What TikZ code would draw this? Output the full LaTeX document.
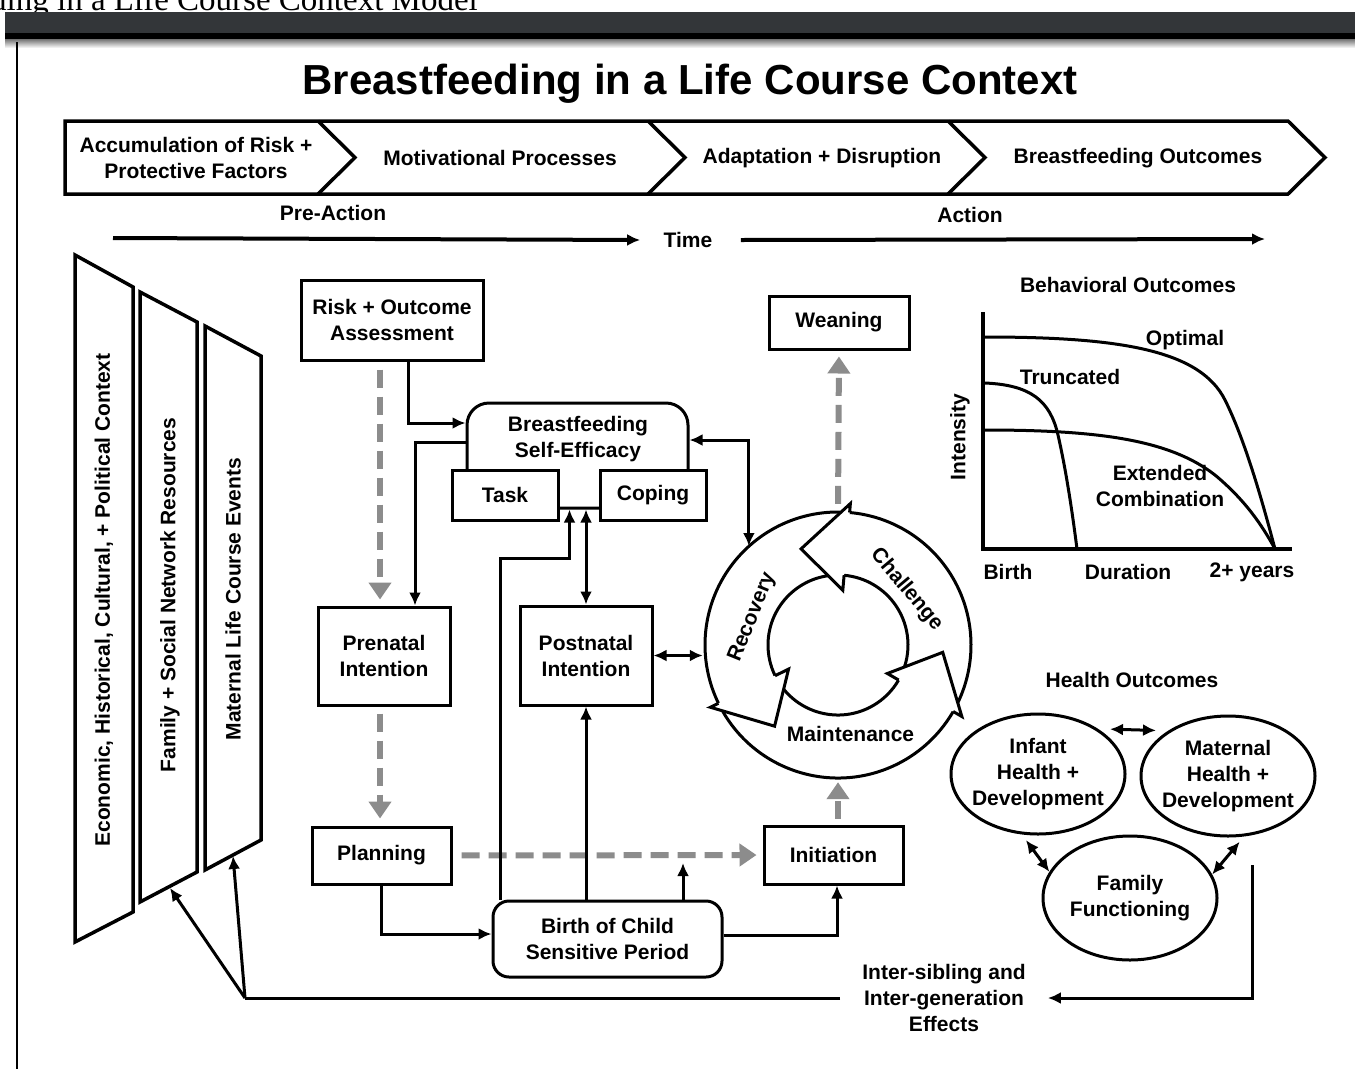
\documentclass[tikz,border=0pt]{standalone}
\usepackage{fontspec}
\setmainfont{Liberation Sans}
\newfontfamily\capfont{Liberation Serif}
\usetikzlibrary{arrows.meta,shapes.geometric,calc}

\definecolor{barcol}{HTML}{333639}

\tikzset{
  lbl/.style={font=\bfseries\fontsize{21}{26}\selectfont, align=center},
  box/.style={draw, line width=3pt, fill=white, lbl, inner sep=0pt},
  oval/.style={ellipse, draw, line width=3pt, lbl, inner sep=-15pt, minimum width=174pt, minimum height=120pt},
  arr/.style={line width=3pt, -{Latex[length=13pt,width=12pt]}},
  arr2/.style={line width=3pt, {Latex[length=13pt,width=12pt]}-{Latex[length=13pt,width=12pt]}},
  tarr/.style={line width=4pt, -{Latex[length=13pt,width=12pt]}},
  garr/.style={draw=black!45, line width=6pt, dash pattern=on 18pt off 9pt, -{Triangle[width=22pt,length=17pt]}},
  panel/.style={line width=3.5pt, line join=miter},
}

\begin{document}
\begin{tikzpicture}[x=1pt, y=-1pt]
\useasboundingbox (0,0) rectangle (1355,1069);
\fill[white] (0,0) rectangle (1355,1069);

% Page header
\node[anchor=base east, font=\capfont\fontsize{33}{36}\selectfont, inner sep=0pt] (cap) at (478,10) {Breastfeeding in a Life Course Context Model};
\fill[barcol] (5,12) rectangle (1355,33);
\fill[black] (5,33) rectangle (1355,39);
\shade[top color=black!55, bottom color=white] (5,39) rectangle (1355,48);
\draw[line width=2pt] (17,42) -- (17,1069);

% Title
\node[font=\bfseries\fontsize{42}{50}\selectfont] (title) at (690,84) {Breastfeeding in a Life Course Context};

% Stages
\draw[line width=3.5pt, line join=miter] (65,121) -- (1288,121) -- (1325,157.5) -- (1288,194) -- (65,194) -- cycle;
\draw[line width=3.5pt] (318,121) -- (355,157.5) -- (318,194);
\draw[line width=3.5pt] (648,121) -- (685,157.5) -- (648,194);
\draw[line width=3.5pt] (948,121) -- (985,157.5) -- (948,194);
\node[lbl] (acc) at (196,158) {Accumulation of Risk +\\Protective Factors};
\node[lbl] (motiv) at (500,158) {Motivational Processes};
\node[lbl] (adapt) at (822,158) {Adaptation + Disruption};
\node[lbl] (bfout) at (1138,158) {Breastfeeding Outcomes};

% Time
\node[lbl] (preact) at (333,213) {Pre-Action};
\node[lbl] (act) at (970,215) {Action};
\node[lbl] (time) at (688,240) {Time};
\coordinate (t0) at (113,238);
\coordinate (t1) at (1265,239);
\draw[tarr] (t0) -- ([xshift=-20pt]time.west);
\draw[tarr] ([xshift=25pt]time.east) -- (t1);

% Context panels
\draw[panel] (75,255) -- (133,287) -- (133,912) -- (75,942) -- cycle;
\draw[panel] (140,292) -- (197,322) -- (197,872) -- (140,902) -- cycle;
\draw[panel] (205,326) -- (261,356) -- (261,840) -- (205,870) -- cycle;
\node[lbl, rotate=90] (econ) at (104,600) {Economic, Historical, Cultural, + Political Context};
\node[lbl, rotate=90] (famnet) at (170,595) {Family + Social Network Resources};
\node[lbl, rotate=90] (lifeev) at (233,599) {Maternal Life Course Events};
\coordinate (famb) at (170,888);
\coordinate (lifeb) at (233,856);

% Boxes
\node[box, minimum width=182pt, minimum height=80pt] (risk) at (392,320) {Risk + Outcome\\Assessment};
\node[box, rounded corners=22pt, minimum width=221pt, minimum height=105pt] (bse) at (577.5,455.5) {};
\node[lbl] (bsetxt) at (578,439) {Breastfeeding\\Self-Efficacy};
\node[box, minimum width=106pt, minimum height=50pt] (task) at (505,495) {Task};
\node[box, minimum width=106pt, minimum height=50pt] (cope) at (653,495) {Coping};
\node[box, minimum width=132pt, minimum height=98pt] (pre) at (384,656) {Prenatal\\Intention};
\node[box, minimum width=132pt, minimum height=99pt] (post) at (586,655.5) {Postnatal\\Intention};
\node[box, minimum width=139pt, minimum height=57pt] (plan) at (381.5,855.5) {Planning};
\node[box, minimum width=139pt, minimum height=58pt] (init) at (833.5,855) {Initiation};
\node[box, rounded corners=16pt, minimum width=229pt, minimum height=76pt] (birth) at (607.5,939) {Birth of Child\\Sensitive Period};
\node[box, minimum width=140pt, minimum height=53pt] (wean) at (839,322.5) {Weaning};

% Cycle
\node[circle, inner sep=0pt, minimum size=266pt] (ring) at (838,645) {};
\begin{scope}[shift={(ring.center)}, y=1pt]
  \draw[line width=3pt] (-26:133) arc[start angle=-26, end angle=85, radius=133]
    (-26:70) arc[start angle=-26, end angle=85, radius=70];
  \draw[line width=3pt] (89:133) arc[start angle=89, end angle=206, radius=133]
    (89:70) arc[start angle=89, end angle=206, radius=70];
  \draw[line width=3pt] (210:133) arc[start angle=210, end angle=330, radius=133]
    (210:70) arc[start angle=210, end angle=330, radius=70];
  \filldraw[fill=white, line width=3pt, line join=miter] (85:133) -- (85:142) -- (111:103) -- (85:55) -- (85:70);
  \filldraw[fill=white, line width=3pt, line join=miter] (206:133) -- (206:142) -- (232:103) -- (206:55) -- (206:70);
  \filldraw[fill=white, line width=3pt, line join=miter] (330:133) -- (330:143) -- (356:105) -- (330:57) -- (330:70);
  \node[lbl, rotate=-50] (chal) at (39:88) {Challenge};
  \node[lbl, rotate=68] (recov) at (162:90) {Recovery};
  \node[lbl] (maint) at (-82:90) {Maintenance};
\end{scope}

% Connectors
\draw[arr] ([xshift=16pt]risk.south) |- ([yshift=32.5pt]bse.west);
\draw[arr] ([yshift=13.5pt]bse.west) -| ([xshift=31pt]pre.north);
\draw[arr2] ([yshift=15.5pt]bse.east) -| (ring.132);
\draw[garr, shorten <=8pt, shorten >=6pt] ([xshift=-12pt]risk.south) -- ([xshift=-4pt]pre.north);
\draw[garr, shorten <=7pt, shorten >=7pt] ([xshift=-4pt]pre.south) -- ([xshift=-1.5pt]plan.north);
\draw[garr, shorten <=9pt, shorten >=6pt] (plan.east) -- (init.west);
\draw[garr, shorten <=8pt, shorten >=6pt] (ring.north) -- (wean.south);
\draw[garr, shorten <=6pt, shorten >=4pt] ([xshift=4.5pt]init.north) -- (ring.south);
\draw[arr] (plan.south) |- ([yshift=5pt]birth.west);
\draw[arr] ([yshift=4pt]birth.east) -| ([xshift=3.5pt]init.south);
\draw[arr] (post.south |- birth.north) -- (post.south);
\draw[arr] ([xshift=-107.5pt]birth.north) -- ++(0,-341) -| ([xshift=-8pt]bse.south);
\draw[arr2] (post.north) -- (post.north |- bse.south);
\coordinate (dashhit) at (683,863);
\draw[arr] (birth.north -| dashhit) -- (dashhit);
\draw[arr2, shorten >=2pt] (post.east) -- (post.east -| ring.west);

% Behavioral outcomes
\node[lbl] (bout) at (1128,285) {Behavioral Outcomes};
\draw[line width=3.5pt] (983,312) -- (983,549) -- (1292,549);
\draw[line width=3pt] (985,337) .. controls (1120,337) and (1200,350) .. (1225,400) .. controls (1245,440) and (1262,500) .. (1275,549);
\draw[line width=3pt] (985,383) .. controls (1030,385) and (1050,400) .. (1058,435) .. controls (1066,470) and (1072,510) .. (1077,549);
\draw[line width=3pt] (985,430) .. controls (1100,430) and (1170,440) .. (1215,475) .. controls (1245,500) and (1262,525) .. (1275,549);
\node[lbl, rotate=90] (inten) at (960,437) {Intensity};
\node[lbl] (opt) at (1185,340) {Optimal};
\node[lbl] (trunc) at (1070,377) {Truncated};
\node[lbl] (ext) at (1160,486) {Extended\\Combination};
\node[lbl] (birthlbl) at (1008,572) {Birth};
\node[lbl] (dur) at (1128,572) {Duration};
\node[lbl] (twoyr) at (1252,572) {2+ years};

% Health outcomes
\node[lbl] (hout) at (1132,680) {Health Outcomes};
\node[oval] (inf) at (1038,774) {Infant\\Health +\\Development};
\node[oval] (mat) at (1228,776) {Maternal\\Health +\\Development};
\node[oval, minimum height=124pt] (fam) at (1130,898) {Family\\Functioning};
\draw[arr2, shorten <=12pt, shorten >=12pt] (inf.37) -- (mat.143);
\draw[arr2, shorten <=7pt] (inf.255) -- (fam.162);
\draw[arr2, shorten <=7pt] (mat.285) -- (fam.16);

% Feedback
\node[lbl, inner xsep=22pt] (inter) at (944,998) {Inter-sibling and\\Inter-generation\\Effects};
\coordinate (hstart) at (1252,865);
\coordinate (fork) at (245,998);
\draw[arr] (hstart) |- (inter.east);
\draw[line width=3pt] (inter.west) -- (fork);
\draw[arr] (fork) -- (famb);
\draw[arr] (fork) -- (lifeb);
\end{tikzpicture}
\end{document}
